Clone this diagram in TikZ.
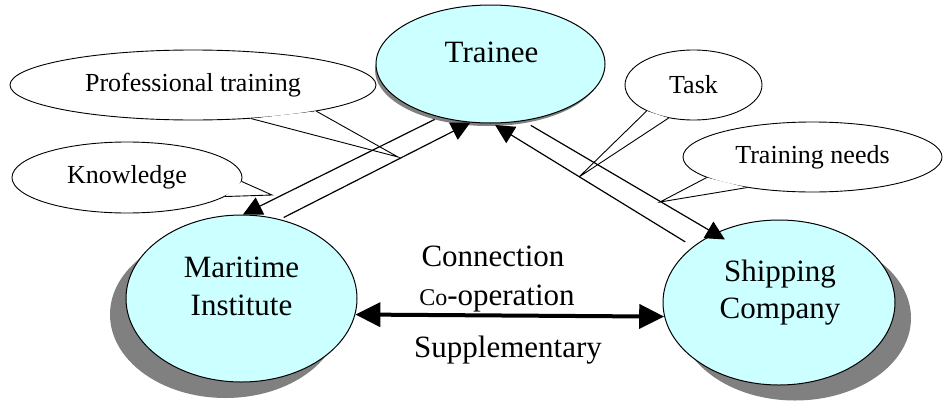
\documentclass[tikz,border=0pt]{standalone}
\usepackage{fontspec}
\setmainfont{Liberation Serif}
\newfontfamily\diagramfont{Liberation Serif}
\usetikzlibrary{shapes.geometric,arrows.meta}
\definecolor{actorfill}{HTML}{CCFFFF}
\definecolor{shadowgray}{HTML}{808080}
\begin{document}
\begin{tikzpicture}[x=1pt,y=-1pt,
  actor/.style={ellipse, draw=black, line width=1pt, fill=actorfill, inner sep=0pt},
  actorshadow/.style={ellipse, fill=shadowgray, inner sep=0pt},
  bubble/.style={ellipse, draw=black, line width=0.9pt, fill=white, inner sep=0pt,
    font=\diagramfont\fontsize{26}{30}\selectfont},
  tail/.style={draw=black, line width=0.9pt, line join=miter},
  flow/.style={line width=1.2pt, -{Triangle[length=19pt,width=19pt]}},
  both/.style={line width=4pt, {Triangle[length=25pt,width=24pt]}-{Triangle[length=25pt,width=24pt]}},
  actortext/.style={align=center, inner sep=0pt, font=\diagramfont\fontsize{31}{38}\selectfont},
  midtext/.style={anchor=base, inner sep=0pt, font=\diagramfont\fontsize{31}{37}\selectfont},
]
\useasboundingbox (0,0) rectangle (943,402);

% speech bubbles
\node[bubble, minimum width=366pt, minimum height=70pt] (prof) at (193,85) {Professional training};
\node[bubble, minimum width=230pt, minimum height=71pt] (know) at (127,177.5) {Knowledge};
\node[bubble, minimum width=137pt, minimum height=70pt] (task) at (693.5,85) {Task};
\node[bubble, minimum width=259pt, minimum height=70pt] (need) at (812.5,157) {Training needs};

% where the bubble pointers end
\coordinate (profTip) at (398,157);
\coordinate (knowTip) at (272,195);
\coordinate (taskTip) at (579,177);
\coordinate (needTip) at (660,202);

% bubble pointers
\fill[white] (prof.-30.8) -- (profTip) -- (prof.-12.8) -- cycle;
\draw[tail] (prof.-30.8) -- (profTip) -- (prof.-12.8);
\fill[white] (know.-2.8) -- (knowTip) -- (know.-11.3) -- cycle;
\draw[tail] (know.-2.8) -- (knowTip) -- (know.-11.3);
\fill[white] (task.-151.3) -- (taskTip) -- (task.-127.9) -- cycle;
\draw[tail] (task.-151.3) -- (taskTip) -- (task.-127.9);
\fill[white] (need.-169.2) -- (needTip) -- (need.-155.4) -- cycle;
\draw[tail] (need.-169.2) -- (needTip) -- (need.-155.4);

% the three parties, each with a drop shadow
\node[actorshadow, minimum width=231pt, minimum height=167pt] (maritimeShadow) at (225.5,314.5) {};
\node[actor, minimum width=231pt, minimum height=167pt] (maritime) at (241.5,298.5) {};
\node[actorshadow, minimum width=232pt, minimum height=165pt] (shippingShadow) at (795,318) {};
\node[actor, minimum width=232pt, minimum height=165pt] (shipping) at (779,302.5) {};
\node[actorshadow, minimum width=226pt, minimum height=112pt] (traineeShadow) at (488,70) {};
\node[actor, minimum width=229pt, minimum height=118pt] (trainee) at (490.5,64) {};

% flows between the trainee and the other two parties
\draw[flow, shorten <=5pt] (trainee.-134) -- (maritime.89);
\draw[flow, shorten <=4pt] (maritime.64) -- (trainee.-109.5);
\draw[flow, shorten <=9pt, shorten >=3pt] (shipping.147.6) -- (trainee.-88);
\draw[flow, shorten <=8.6pt, shorten >=-12pt] (trainee.-60.4) -- (shipping.133.8);

% link between institute and company
\draw[both] (maritime.-8.3) -- (shipping.-173.8);

% labels
\node[actortext, anchor=base] (traineeLabel) at (491.5,62) {Trainee};
\node[actortext] (maritimeLabel) at (241.5,286.5) {Maritime\\Institute};
\node[actortext, font=\diagramfont\fontsize{31}{37}\selectfont] (shippingLabel) at (780,293) {Shipping\\Company};
\node[midtext] (connLabel) at (493,266) {Connection};
\node[midtext] (coopLabel) at (497,305) {{\fontsize{24}{28}\selectfont Co}-operation};
\node[midtext] (suppLabel) at (508,357) {Supplementary};
\end{tikzpicture}
\end{document}
